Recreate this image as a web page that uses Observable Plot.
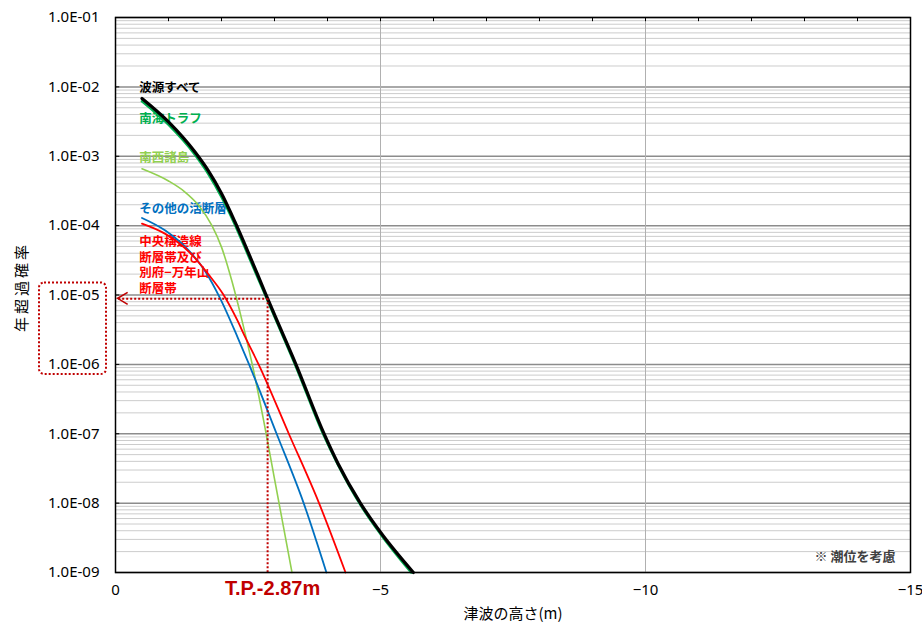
<!DOCTYPE html>
<html><head><meta charset="utf-8">
<script src="https://cdn.jsdelivr.net/npm/d3@7"></script>
<script src="https://cdn.jsdelivr.net/npm/@observablehq/plot@0.6"></script>
<style>body{margin:0;background:#fff;}</style>
</head><body><div id="chart"></div>
<script>
// ---- data ----
const allX    = [-0.5, -1.0, -1.5, -1.75, -2.0, -2.25, -2.5, -2.83, -3.0, -3.4, -3.93, -4.2, -4.62, -5.0, -5.62];
const allP    = [6.8e-3, 3.13e-3, 1.15e-3, 6.2e-4, 2.9e-4, 1.15e-4, 4.2e-5, 1.05e-5, 5.2e-6, 1.02e-6, 1.02e-7, 3.7e-8, 1.0e-8, 3.8e-9, 1.0e-9];
const nankaiX = [-0.5, -1.0, -1.5, -1.75, -2.0, -2.25, -2.5, -2.83, -3.0, -3.4, -3.93, -4.2, -4.62, -5.0, -5.58];
const nankaiP = [6.2e-3, 2.85e-3, 1.05e-3, 5.6e-4, 2.6e-4, 1.05e-4, 3.8e-5, 9.8e-6, 4.9e-6, 9.5e-7, 9.5e-8, 3.55e-8, 9.5e-9, 3.6e-9, 1.0e-9];
const nanseiX = [-0.5, -1.0, -1.3, -1.57, -1.82, -2.0, -2.2, -2.4, -2.6, -2.8, -3.0, -3.33];
const nanseiP = [6.6e-4, 4.4e-4, 3.1e-4, 1.95e-4, 1.0e-4, 4.9e-5, 1.55e-5, 3.9e-6, 8.5e-7, 1.48e-7, 2.24e-8, 1.0e-9];
const otherX  = [-0.5, -0.94, -1.38, -1.71, -1.97, -2.30, -2.52, -3.04, -3.55, -3.98];
const otherP  = [1.29e-4, 8.5e-5, 4.4e-5, 2.1e-5, 9.1e-6, 2.5e-6, 1.0e-6, 1.0e-7, 1.0e-8, 1.0e-9];
const mtlX    = [-0.5, -0.94, -1.40, -1.75, -2.04, -2.30, -2.45, -2.70, -3.27, -3.84, -4.34];
const mtlP    = [1.07e-4, 7.6e-5, 4.1e-5, 2.0e-5, 1.0e-5, 4.3e-6, 2.45e-6, 1.0e-6, 1.0e-7, 1.0e-8, 1.0e-9];

const seriesNames  = ["南西諸島", "その他の活断層", "中央構造線断層帯及び別府−万年山断層帯", "南海トラフ", "波源すべて"];
const seriesColors = ["#92D050", "#0070C0", "#FF0000", "#00B050", "#000000"];
const seriesWidths = [1.6, 1.8, 1.8, 2.6, 3.2];
const seriesXs = [nanseiX, otherX, mtlX, nankaiX, allX];
const seriesPs = [nanseiP, otherP, mtlP, nankaiP, allP];

const labelTexts  = ["波源すべて", "南海トラフ", "南西諸島", "その他の活断層", "中央構造線\n断層帯及び\n別府−万年山\n断層帯"];
const labelP      = [1.01e-2, 3.5e-3, 9.6e-4, 1.77e-4, 2.76e-5];
const labelColors = ["#000000", "#00B050", "#92D050", "#0070C0", "#FF0000"];
const labelX = -0.45;

const yDecades = [1e-9, 1e-8, 1e-7, 1e-6, 1e-5, 1e-4, 1e-3, 1e-2, 1e-1];
const yMinor = [];
for (const d of yDecades.slice(0, -1)) for (const k of [2,3,4,5,6,7,8,9]) yMinor.push(k * d);
const xTickVals = [0, -5, -10, -15];
const xTopTicks = [-1,-2,-3,-4,-5,-6,-7,-8,-9,-10,-11,-12,-13,-14];

const tpX = -2.87;      // T.P.-2.87m
const tpP = 8.8e-6;     // crossing level
const tpLabel = "T.P.-2.87m";

const rows = seriesNames.flatMap((name, s) => seriesXs[s].map((x, i) => ({name, x, p: seriesPs[s][i]})));
const labels = labelTexts.map((t, i) => ({t, p: labelP[i], c: labelColors[i]}));

const jp = "'Noto Sans CJK JP', 'Noto Sans', sans-serif";
const red = "#C00000";

const lineMarks = seriesNames.map((name, s) =>
  Plot.line(rows.filter(r => r.name === name), {x: "x", y: "p", stroke: seriesColors[s], strokeWidth: seriesWidths[s], curve: "monotone-x"}));

const chart = Plot.plot({
  width: 922, height: 623,
  marginLeft: 115, marginRight: 12, marginTop: 17, marginBottom: 51,
  style: {fontFamily: "'Noto Sans', 'Noto Sans CJK JP', sans-serif", fontSize: "15px", background: "#fff", color: "#000"},
  x: {domain: [0, -15]},
  y: {type: "log", domain: [1e-9, 1e-1]},
  marks: [
    Plot.ruleY(yMinor, {stroke: "#cccccc", strokeWidth: 1}),
    Plot.ruleY(yDecades, {stroke: "#8c8c8c", strokeWidth: 1.5}),
    Plot.ruleX([-5, -10], {stroke: "#b0b0b0", strokeWidth: 1}),
    Plot.text(labels, {x: labelX, y: "p", text: "t", fill: "c", textAnchor: "start", lineAnchor: "middle", lineHeight: 1.24, fontSize: 12.5, fontWeight: "bold", fontFamily: jp}),
    ...lineMarks,
    Plot.ruleY([tpP], {x1: -0.06, x2: tpX, stroke: red, strokeWidth: 2, strokeDasharray: "2,2"}),
    Plot.ruleX([tpX], {y1: tpP, y2: 1e-9, stroke: red, strokeWidth: 2, strokeDasharray: "2,2"}),
    Plot.text([tpLabel], {x: tpX, frameAnchor: "bottom", dy: 16, dx: 5, lineAnchor: "middle", fill: red, fontSize: 20, fontWeight: "bold", fontFamily: "'Liberation Sans', Arial, sans-serif"}),
    Plot.text(["※ 潮位を考慮"], {frameAnchor: "bottom-right", dx: -15, dy: -16, lineAnchor: "middle", textAnchor: "end", fill: "#404040", fontSize: 13, fontWeight: "bold", fontFamily: jp}),
    Plot.ruleY(yDecades, {x1: 0, x2: -0.08, stroke: "#000"}),
    Plot.ruleX(xTopTicks, {y1: 0.1, y2: 0.087, stroke: "#000"}),
    Plot.frame({stroke: "#000", strokeWidth: 1.5}),
    Plot.axisX({ticks: xTickVals, tickSize: 0, tickPadding: 12, label: null}),
    Plot.axisY({ticks: yDecades, tickSize: 0, tickPadding: 16, label: null,
      tickFormat: d => "1.0E-" + String(-Math.round(Math.log10(d))).padStart(2, "0")}),
    Plot.text(["津波の高さ(m)"], {frameAnchor: "bottom", dy: 42, lineAnchor: "middle", fontSize: 15, fontFamily: jp}),
    Plot.text(["年超過確率"], {frameAnchor: "left", dx: -93, dy: -8, rotate: -90, textAnchor: "middle", lineAnchor: "middle", fontSize: 15, fontFamily: jp})
  ]
});

// annotations placed from the scales
const xs = chart.scale("x"), ys = chart.scale("y");
const svg = d3.select(chart);
// open arrowhead at the left end of the dotted line
const ax = xs.apply(-0.05), ay = ys.apply(tpP);
svg.append("path")
  .attr("d", `M${ax + 10},${ay - 6}L${ax},${ay}L${ax + 10},${ay + 6}`)
  .attr("fill", "none").attr("stroke", red).attr("stroke-width", 1.6);
// dotted rounded box around the 1.0E-05 / 1.0E-06 tick labels
const boxTop = ys.apply(1e-5) - 12, boxBottom = ys.apply(1e-6) + 10;
const x0 = xs.apply(0);
svg.append("rect")
  .attr("x", x0 - 76).attr("y", boxTop).attr("width", 67).attr("height", boxBottom - boxTop)
  .attr("rx", 5).attr("fill", "none").attr("stroke", red).attr("stroke-width", 2).attr("stroke-dasharray", "2,2");
svg.selectAll("text").filter(function(){ return this.textContent === "年超過確率"; }).attr("letter-spacing", "3px");

document.getElementById("chart").appendChild(chart);
</script>
</body></html>
